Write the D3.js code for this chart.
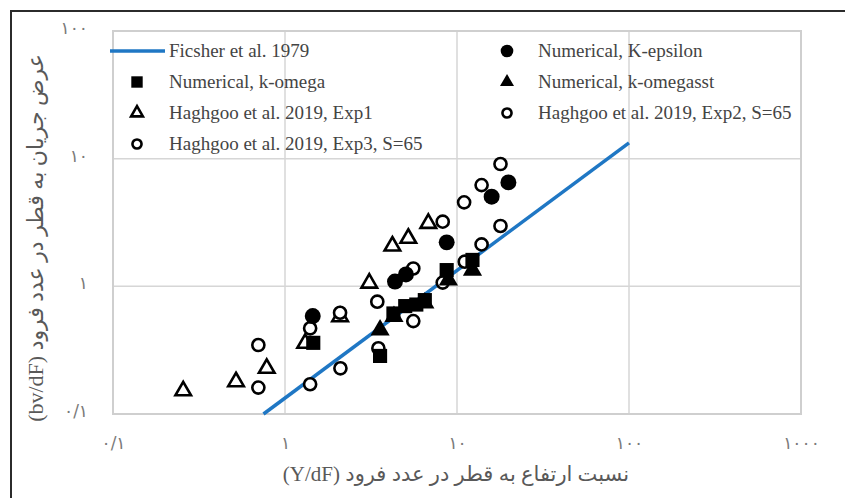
<!DOCTYPE html>
<html>
<head>
<meta charset="utf-8">
<script src="https://cdn.jsdelivr.net/npm/d3@7"></script>
<style>
  html, body { margin: 0; padding: 0; background: #fff; }
  svg { display: block; }
</style>
</head>
<body>
<svg id="chart" width="845" height="498"></svg>
<script>
// Axis ticks and their Persian labels
const xTicks = [0.1, 1, 10, 100, 1000];
const xTickLabels = ["۰/۱", "۱", "۱۰", "۱۰۰", "۱۰۰۰"];
const yTicks = [0.1, 1, 10, 100];
const yTickLabels = ["۰/۱", "۱", "۱۰", "۱۰۰"];

const xTitle = "نسبت ارتفاع به قطر در عدد فرود (Y/dF)";
const yTitle = "عرض جریان به قطر در عدد فرود (bv/dF)";

// Fischer et al. (1979) relation, end points
const fischerX = [0.75, 100];
const fischerY = [0.1, 13.3];

// Numerical, K-epsilon
const kepsX = [1.45, 4.36, 5.05, 8.71, 15.9, 19.9];
const kepsY = [0.585, 1.09, 1.24, 2.21, 5.04, 6.52];

// Numerical, k-omega
const komX = [1.46, 3.57, 4.27, 5.0, 5.8, 6.5, 8.71, 12.3];
const komY = [0.361, 0.285, 0.613, 0.70, 0.72, 0.78, 1.34, 1.61];

// Numerical, k-omegasst
const ksstX = [3.57, 4.3, 6.5, 8.91, 12.3];
const ksstY = [0.455, 0.58, 0.74, 1.12, 1.34];

// Haghgoo et al. 2019, Exp1
const exp1X = [0.256, 0.519, 0.783, 1.31, 2.09, 3.09, 4.21, 5.21, 6.81];
const exp1Y = [0.152, 0.179, 0.228, 0.358, 0.578, 1.06, 2.07, 2.38, 3.11];

// Haghgoo et al. 2019, Exp2, S=65
const exp2X = [0.70, 1.40, 2.10, 3.49, 5.57, 8.26, 11.1, 13.9, 17.9];
const exp2Y = [0.161, 0.171, 0.228, 0.327, 0.534, 1.07, 1.56, 2.13, 2.97];

// Haghgoo et al. 2019, Exp3, S=65
const exp3X = [0.70, 1.40, 2.09, 3.44, 5.57, 8.26, 11.0, 13.9, 17.9];
const exp3Y = [0.347, 0.469, 0.621, 0.758, 1.38, 3.21, 4.55, 6.21, 9.08];

const legendNames = [
  "Ficsher et al. 1979",
  "Numerical, K-epsilon",
  "Numerical, k-omega",
  "Numerical, k-omegasst",
  "Haghgoo et al. 2019, Exp1",
  "Haghgoo et al. 2019, Exp2, S=65",
  "Haghgoo et al. 2019, Exp3, S=65"
];

const svg = d3.select("#chart");
const W = 845, H = 498;
const plot = { left: 113, right: 801, top: 31, bottom: 414 };

const x = d3.scaleLog().domain([0.1, 1000]).range([plot.left, plot.right]);
const y = d3.scaleLog().domain([0.1, 100]).range([plot.bottom, plot.top]);

const gridColor = "#d6d6d6";
const textGray = "#7a7a7a";
const titleGray = "#595959";
const legendGray = "#444444";
const blue = "#1f77c4";

// outer frame (top and left edges)
svg.append("path")
  .attr("d", `M11,${H} L11,11 L${W},11`)
  .attr("fill", "none").attr("stroke", "#2b2b2b").attr("stroke-width", 2);

// grid lines
const grid = svg.append("g");
grid.selectAll("line.gx").data(xTicks.slice(1, -1)).join("line")
  .attr("x1", d => x(d)).attr("x2", d => x(d))
  .attr("y1", plot.top).attr("y2", plot.bottom)
  .attr("stroke", gridColor).attr("stroke-width", 1.5);
grid.selectAll("line.gy").data(yTicks.slice(1, -1)).join("line")
  .attr("y1", d => y(d)).attr("y2", d => y(d))
  .attr("x1", plot.left).attr("x2", plot.right)
  .attr("stroke", gridColor).attr("stroke-width", 1.5);

// plot border
svg.append("rect")
  .attr("x", plot.left).attr("y", plot.top)
  .attr("width", plot.right - plot.left).attr("height", plot.bottom - plot.top)
  .attr("fill", "none").attr("stroke", "#cfcfcf").attr("stroke-width", 2);

// axes (labels only)
const xAxis = svg.append("g")
  .attr("transform", `translate(0,${plot.bottom + 29})`)
  .call(d3.axisBottom(x).tickValues(xTicks).tickSize(0)
        .tickFormat((d, i) => xTickLabels[i]));
xAxis.select(".domain").remove();
xAxis.selectAll("text")
  .attr("y", 0).attr("dy", "0.35em")
  .attr("fill", textGray).style("font-family", "DejaVu Sans").style("font-size", "17px");

const yAxis = svg.append("g")
  .attr("transform", `translate(${plot.left - 25},0)`)
  .call(d3.axisLeft(y).tickValues(yTicks).tickSize(0)
        .tickFormat((d, i) => yTickLabels[i]));
yAxis.select(".domain").remove();
yAxis.selectAll("text")
  .attr("x", 0).attr("dy", "0.15em")
  .attr("fill", textGray).style("font-family", "DejaVu Sans").style("font-size", "17px");

// axis titles
svg.append("text")
  .attr("x", 456).attr("y", 481)
  .attr("text-anchor", "middle")
  .attr("direction", "rtl")
  .attr("fill", titleGray)
  .style("font-family", "'Liberation Serif', 'DejaVu Sans'")
  .style("font-size", "21px")
  .text(xTitle);

svg.append("text")
  .attr("transform", "translate(43,238) rotate(-90)")
  .attr("text-anchor", "middle")
  .attr("direction", "rtl")
  .attr("fill", titleGray)
  .style("font-family", "'Liberation Serif', 'DejaVu Sans'")
  .style("font-size", "22px")
  .text(yTitle);

// Fischer line
const fischer = fischerX.map((v, i) => [v, fischerY[i]]);
svg.append("path")
  .datum(fischer)
  .attr("d", d3.line().x(d => x(d[0])).y(d => y(d[1])))
  .attr("fill", "none").attr("stroke", blue).attr("stroke-width", 3.5);

// marker drawing helpers
const sym = {
  square: d3.symbol().type(d3.symbolSquare),
  triangle: d3.symbol().type(d3.symbolTriangle),
  circle: d3.symbol().type(d3.symbolCircle)
};

function drawSeries(xs, ys, shape, filled, size) {
  const pts = xs.map((v, i) => [v, ys[i]]);
  svg.append("g").selectAll("path").data(pts).join("path")
    .attr("transform", d => `translate(${x(d[0])},${y(d[1])})`)
    .attr("d", sym[shape].size(size)())
    .attr("fill", filled ? "#000" : "#fff")
    .attr("stroke", "#000")
    .attr("stroke-width", filled ? 0 : 2.6);
}

drawSeries(exp1X, exp1Y, "triangle", false, 105);
drawSeries(exp2X, exp2Y, "circle", false, 115);
drawSeries(exp3X, exp3Y, "circle", false, 115);
drawSeries(ksstX, ksstY, "triangle", true, 160);
drawSeries(komX, komY, "square", true, 200);
drawSeries(kepsX, kepsY, "circle", true, 200);

// legend
const legend = svg.append("g");
const legendFont = "'Liberation Serif', 'Times New Roman', serif";
const rows1 = [51, 82, 113, 144];
const rows2 = [51, 82, 113];

function legendText(tx, ty, label) {
  legend.append("text")
    .attr("x", tx).attr("y", ty).attr("dy", "0.33em")
    .attr("fill", legendGray)
    .style("font-family", legendFont).style("font-size", "19px")
    .text(label);
}
function legendMarker(mx, my, shape, filled, size) {
  legend.append("path")
    .attr("transform", `translate(${mx},${my})`)
    .attr("d", sym[shape].size(size)())
    .attr("fill", filled ? "#000" : "#fff")
    .attr("stroke", "#000")
    .attr("stroke-width", filled ? 0 : 2.6);
}

legend.append("line")
  .attr("x1", 110).attr("x2", 165).attr("y1", rows1[0]).attr("y2", rows1[0])
  .attr("stroke", blue).attr("stroke-width", 3.5);
legendText(169, rows1[0], legendNames[0]);
legendMarker(137, rows1[1], "square", true, 130);
legendText(169, rows1[1], legendNames[2]);
legendMarker(137, rows1[2], "triangle", false, 60);
legendText(169, rows1[2], legendNames[4]);
legendMarker(137, rows1[3], "circle", false, 65);
legendText(169, rows1[3], legendNames[6]);

legendMarker(507, rows2[0], "circle", true, 125);
legendText(538, rows2[0], legendNames[1]);
legendMarker(507, rows2[1], "triangle", true, 85);
legendText(538, rows2[1], legendNames[3]);
legendMarker(507, rows2[2], "circle", false, 65);
legendText(538, rows2[2], legendNames[5]);
</script>
</body>
</html>
